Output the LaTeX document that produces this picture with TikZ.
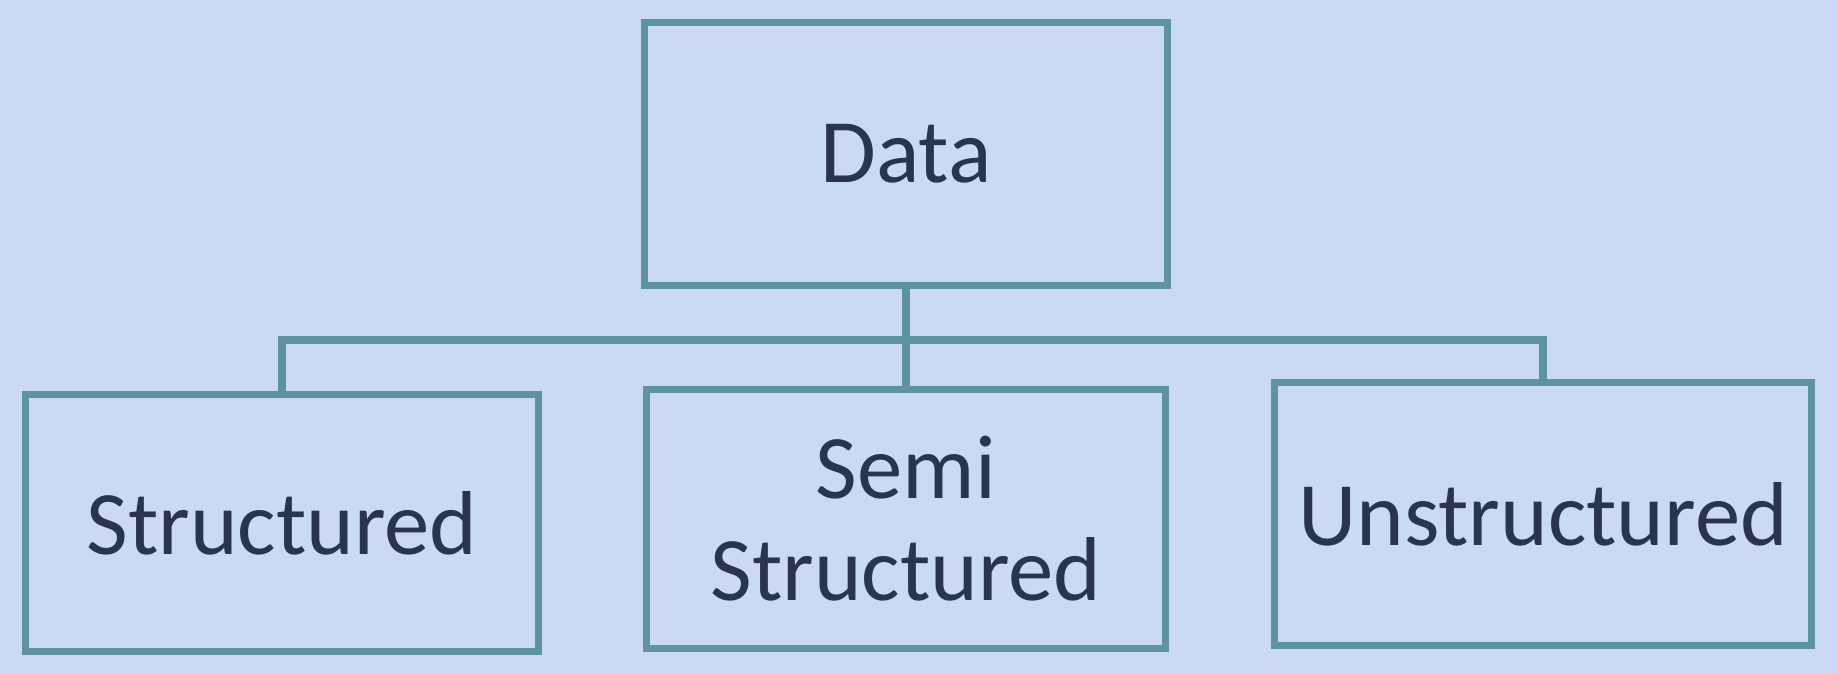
\documentclass[tikz,border=0pt]{standalone}
\usepackage{fontspec}
\setmainfont{Carlito}
\usepackage{tikz}
\definecolor{bgblue}{HTML}{CBDAF4}
\definecolor{boxline}{HTML}{5E93A2}
\definecolor{boxtext}{HTML}{2B3354}
\tikzset{
	databox/.style={draw=boxline,line width=2pt,rectangle,align=center,text=boxtext,
		font=\fontsize{25.8}{29}\selectfont,inner sep=0pt},
	link/.style={draw=boxline,line width=2pt}
}

\begin{document}
\begin{tikzpicture}[x=0.01cm,y=-0.01cm]
		\fill[bgblue] (0,0) rectangle (1838,674);
		\useasboundingbox (0,0) rectangle (1838,674);
		\node[databox,minimum width=5.22cm,minimum height=2.62cm] (data) at (906,154) {Data};
		\node[databox,minimum width=5.12cm,minimum height=2.57cm] (struct) at (282,523) {Structured};
		\node[databox,minimum width=5.19cm,minimum height=2.58cm] (semi) at (906,519) {Semi\\Structured};
		\node[databox,minimum width=5.36cm,minimum height=2.63cm] (unstruct) at (1543,514) {Unstructured};
		\coordinate (bus) at (906,340);
		\draw[link] (data.south) -- (semi.north);
		\draw[link] (struct.north) |- (bus) -| (unstruct.north);
\end{tikzpicture}
\end{document}
